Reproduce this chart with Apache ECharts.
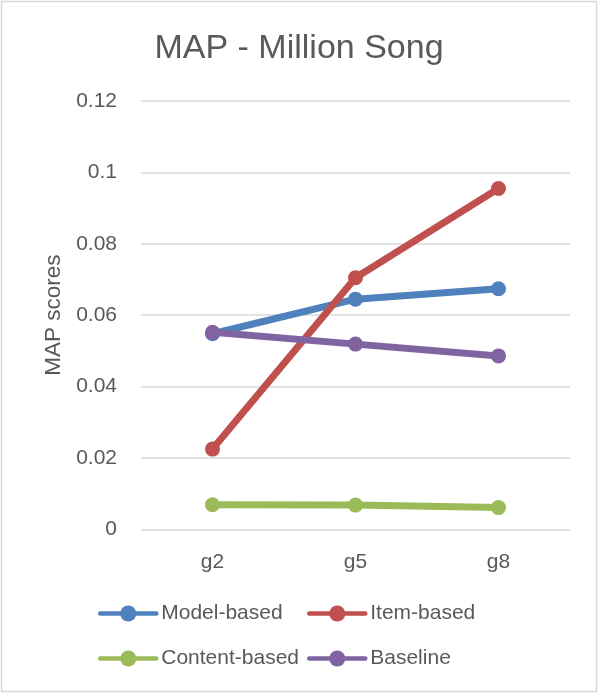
<!DOCTYPE html>
<html>
<head>
<meta charset="utf-8">
<script src="https://cdn.jsdelivr.net/npm/echarts@6/dist/echarts.min.js"></script>
<style>
  html, body { margin: 0; padding: 0; background: #ffffff; }
  #chart { width: 598px; height: 693px; }
</style>
</head>
<body>
<div id="chart"></div>
<script>
// Groups on the x axis
const categories = ['g2', 'g5', 'g8'];

// MAP scores per recommender
const modelBased = [0.0548, 0.0645, 0.0674];
const itemBased = [0.0225, 0.0705, 0.0955];
const contentBased = [0.0069, 0.0068, 0.0061];
const baseline = [0.0552, 0.0519, 0.0486];

// Y axis ticks
const yTicks = [0, 0.02, 0.04, 0.06, 0.08, 0.1, 0.12];

const seriesNames = ['Model-based', 'Item-based', 'Content-based', 'Baseline'];
const seriesValues = [modelBased, itemBased, contentBased, baseline];
const colors = ['#4F81BD', '#C0504D', '#9BBB59', '#8064A2'];

const FONT = '"Liberation Sans", Arial, sans-serif';
const TEXT = '#595959';

const chart = echarts.init(document.getElementById('chart'), null, { renderer: 'canvas' });

// Legend laid out as a 2 x 2 table: one legend component per cell
const legendCols = [98, 307];
const legendRows = [603, 648];
const legends = seriesNames.map((name, i) => ({
  data: [name],
  orient: 'horizontal',
  left: legendCols[i % 2],
  top: legendRows[Math.floor(i / 2)],
  padding: 0,
  itemWidth: 56,
  itemHeight: 20,
  lineStyle: { width: 4.5 },
  textStyle: { color: TEXT, fontFamily: FONT, fontSize: 21 }
}));

chart.setOption({
  animation: false,
  backgroundColor: '#ffffff',
  color: colors,
  title: {
    text: 'MAP - Million Song',
    left: 'center',
    top: 27,
    textStyle: { color: TEXT, fontFamily: FONT, fontSize: 34, fontWeight: 'normal' }
  },
  legend: legends,
  grid: { left: 141, right: 28, top: 101, bottom: 693 - 529.4, containLabel: false },
  xAxis: {
    type: 'category',
    data: categories,
    boundaryGap: true,
    axisLine: { show: false },
    axisTick: { show: false },
    axisLabel: { color: TEXT, fontFamily: FONT, fontSize: 21, margin: 22 }
  },
  yAxis: {
    type: 'value',
    min: yTicks[0],
    max: yTicks[yTicks.length - 1],
    interval: yTicks[1] - yTicks[0],
    name: 'MAP scores',
    nameLocation: 'middle',
    nameGap: 76,
    nameRotate: 90,
    nameTextStyle: { color: TEXT, fontFamily: FONT, fontSize: 22.5 },
    axisLine: { show: false },
    axisTick: { show: false },
    axisLabel: {
      color: TEXT, fontFamily: FONT, fontSize: 21, margin: 24,
      formatter: v => String(Number(v.toFixed(4)))
    },
    splitLine: { lineStyle: { color: '#D9D9D9', width: 1.5 } }
  },
  series: seriesNames.map((name, i) => ({
    name: name,
    type: 'line',
    data: seriesValues[i],
    symbol: 'circle',
    symbolSize: 15,
    showSymbol: true,
    lineStyle: { width: 7, color: colors[i], cap: 'round' },
    itemStyle: { color: colors[i] },
    emphasis: { disabled: true }
  })),
  graphic: [{
    type: 'rect',
    shape: { x: 1.5, y: 1.5, width: 595, height: 690 },
    style: { fill: 'none', stroke: '#D9D9D9', lineWidth: 1.5 },
    silent: true
  }]
});
</script>
</body>
</html>
